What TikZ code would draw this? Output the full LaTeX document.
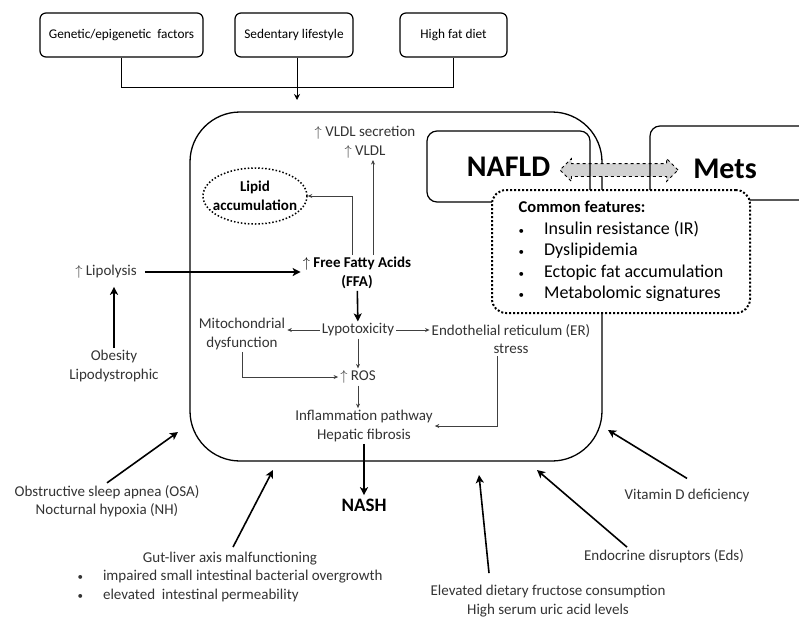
\documentclass[tikz,border=0pt]{standalone}
\usepackage{fontspec}
\setmainfont{Carlito}
\usepackage{amsmath}
\usetikzlibrary{calc,shapes,arrows,arrows.meta,positioning}
\newcommand{\dotitem}{{\fontsize{11}{11}\selectfont\textbullet}}
\tikzset{%
    factor/.style={%
        rectangle, rounded corners=6pt, draw, line width=1.2pt, font=\fontsize{13.3}{16}\selectfont
    },
    txt/.style={%
        align=center, text=black!80, inner sep=2pt, font=\fontsize{15}{18.5}\selectfont
    },
    bold_txt/.style={%
        align=center, text=black, inner sep=2pt, font=\fontsize{15}{18.5}\selectfont\bfseries
    },
    big_txt/.style={%
        inner sep=2pt, font=\fontsize{30}{36}\selectfont\bfseries
    },
    big_arrow/.style={%
        -{Stealth[length=8pt, width=8pt, inset=2pt]}, line width=1.6pt
    },
    thin_arrow/.style={%
        -{Stealth[length=4.5pt, width=4pt]}, line width=0.8pt, black!75
    },
    link_arrow/.style={%
        double arrow, draw, dashed, fill=gray!35, line width=0.8pt, double arrow head extend=5pt,
        inner xsep=0pt, inner ysep=6pt, minimum width=0pt, minimum height=118pt
    },
    feature_box/.style={%
        draw, dotted, line width=2pt, rounded corners=14pt, fill=white,
        minimum width=258pt, minimum height=123pt, font=\fontsize{18}{21.5}\selectfont
    },
}

\begin{document}
\begin{tikzpicture}[x=1pt, y=-1pt]
      \useasboundingbox (0,0) rectangle (799,619);

      \node[factor, minimum width=163pt, minimum height=44pt] (gen) at (121.5,35) {Genetic/epigenetic\ \ factors};
      \node[factor, minimum width=118pt, minimum height=44pt] (sed) at (294,35) {Sedentary lifestyle};
      \node[factor, minimum width=107pt, minimum height=44pt] (hfd) at (453.5,35) {High fat diet};
      \coordinate (entry) at (297,100);
      \draw [line width=1pt] (gen.south) -- ++(0,30) -| (hfd.south);
      \draw [-{Stealth[length=6pt, width=6pt]}, line width=1pt] (sed.south -| entry) -- (entry);

      \node[draw, rounded corners=50pt, line width=1.3pt, minimum width=412pt, minimum height=349pt] (liver) at (396,286.5) {};

      \node[link_arrow] (link) at (619,170) {};
      \node[draw, rounded corners=10pt, line width=1.2pt, minimum width=163pt, minimum height=71pt, big_txt] (nafld) at (508.5,166.5) {NAFLD};
      \draw [line width=1.2pt, rounded corners=10pt] (810,126) -| (650,200) -- (810,200);
      \node[big_txt] (mets) at (725,169) {Mets};
      \node[feature_box] (common) at (621,251.5) {%
        \begin{tabular}{@{}l@{\hspace{20pt}}l@{}}
          \multicolumn{2}{@{}l@{}}{\fontsize{16.5}{21.5}\selectfont\bfseries Common features:}\\
          \dotitem & Insulin resistance (IR)\\
          \dotitem & Dyslipidemia\\
          \dotitem & Ectopic fat accumulation\\
          \dotitem & Metabolomic signatures
        \end{tabular}};

      \node[txt] (vldl) at (365,142) {$\uparrow$ VLDL secretion\\$\uparrow$ VLDL};
      \node[ellipse, draw, dotted, line width=1.5pt, bold_txt, inner xsep=-14pt, inner ysep=0pt, minimum width=104pt, minimum height=56pt] (lipid) at (255,196) {Lipid\\accumulation};
      \node[bold_txt] (ffa) at (357,273) {$\uparrow$ Free Fatty Acids\\(FFA)};
      \draw [thin_arrow] ([xshift=16pt]ffa.north) -- ([xshift=16pt]ffa.north |- vldl.south);
      \draw [thin_arrow] ([xshift=-5pt]ffa.north) |- (lipid.east);

      \node[txt] (lipolysis) at (106,272) {$\uparrow$ Lipolysis};
      \node[txt] (obesity) at (114,366) {Obesity\\Lipodystrophic};
      \draw [big_arrow] ([xshift=6pt]lipolysis.east) -- (lipolysis.east -| ffa.west);
      \draw [big_arrow] (obesity.north) -- ([yshift=-6pt]obesity.north |- lipolysis.south);

      \node[txt] (lypo) at (358,330) {Lypotoxicity};
      \node[txt] (mito) at (242,334) {Mitochondrial\\dysfunction};
      \node[txt] (er) at (511,339) {Endothelial reticulum (ER)\\stress};
      \node[txt] (ros) at (358,377) {$\uparrow$ ROS};
      \node[txt] (inflam) at (364,426) {Inflammation pathway\\Hepatic fibrosis};
      \node[font=\fontsize{19}{22}\selectfont\bfseries] (nash) at (364,505) {NASH};
      \draw [big_arrow] (ffa) -- (lypo);
      \draw [thin_arrow] (lypo.west) -- (lypo.west -| mito.east);
      \draw [thin_arrow] (lypo.east) -- (lypo.east -| er.west);
      \draw [thin_arrow] (lypo) -- (ros);
      \draw [thin_arrow] (mito.south) |- (ros.west);
      \draw [thin_arrow] (ros) -- (ros |- inflam.north);
      \draw [thin_arrow] ([xshift=-14pt]er.south) |- (inflam.east);
      \draw [big_arrow] (inflam) -- (nash);

      \node[txt] (osa) at (107,501) {Obstructive sleep apnea (OSA)\\Nocturnal hypoxia (NH)};
      \node[txt] (gut) at (230,577) {%
        \begin{tabular}{@{}l@{\hspace{20pt}}l@{}}
          \multicolumn{2}{c}{Gut-liver axis malfunctioning}\\
          \dotitem & impaired small intestinal bacterial overgrowth\\
          \dotitem & elevated\ \ intestinal permeability
        \end{tabular}};
      \node[txt] (fructose) at (548,601) {Elevated dietary fructose consumption\\High serum uric acid levels};
      \node[txt] (endo) at (664,556) {Endocrine disruptors (Eds)};
      \node[txt] (vitd) at (687,495) {Vitamin D deficiency};
      \coordinate (osa_end) at (178,432);
      \coordinate (gut_end) at (273,470);
      \coordinate (fructose_end) at (479,475);
      \coordinate (endo_end) at (537,470);
      \coordinate (vitd_end) at (608,430);
      \draw [big_arrow] (osa.north) -- (osa_end);
      \draw [big_arrow] ([xshift=3pt]gut.north) -- (gut_end);
      \draw [big_arrow] ([xshift=-59pt,yshift=10pt]fructose.north) -- (fructose_end);
      \draw [big_arrow] ([xshift=-37pt]endo.north) -- (endo_end);
      \draw [big_arrow] ([yshift=8pt]vitd.north) -- (vitd_end);
    \end{tikzpicture}
\end{document}
